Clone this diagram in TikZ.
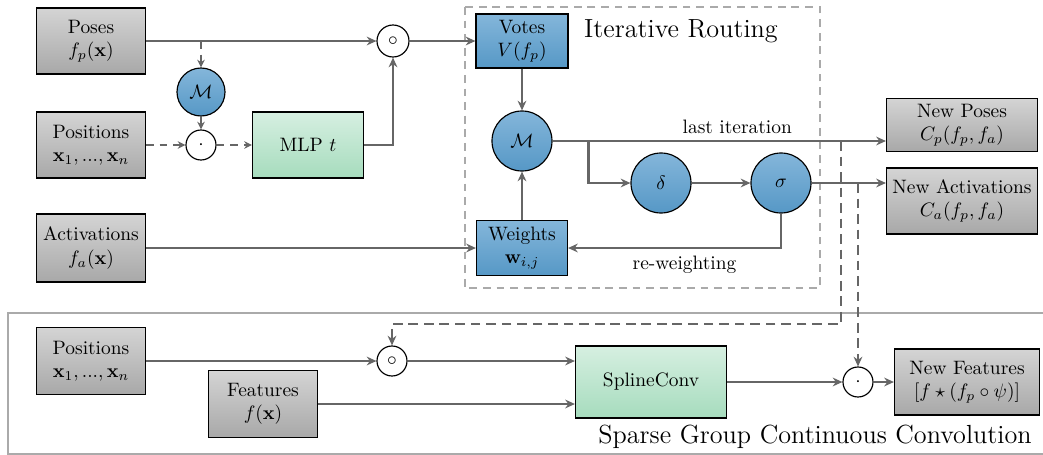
\documentclass[tikz,border=0pt]{standalone}
\usetikzlibrary{arrows.meta,calc,positioning}
\definecolor{gtop}{RGB}{212,212,212}
\definecolor{gbot}{RGB}{168,168,168}
\definecolor{btop}{RGB}{132,182,218}
\definecolor{bbot}{RGB}{86,152,198}
\definecolor{ntop}{RGB}{214,239,225}
\definecolor{nbot}{RGB}{166,220,189}
\definecolor{lc}{RGB}{102,102,102}
\definecolor{bc}{RGB}{170,170,170}
\def\u{0.515pt}
\tikzset{
  base/.style={draw=black, line width=0.6pt, align=center, inner sep=1pt},
  graybox/.style={base, rectangle, top color=gtop, bottom color=gbot},
  bluebox/.style={base, rectangle, top color=btop, bottom color=bbot},
  greenbox/.style={base, rectangle, top color=ntop, bottom color=nbot},
  bluecirc/.style={base, circle, top color=btop, bottom color=bbot},
  opcirc/.style={draw=black, line width=0.6pt, circle, fill=white, inner sep=0pt, minimum size=30*\u},
  conn/.style={draw=lc, line width=1.2pt, -{Stealth[length=5pt,width=4.5pt]}},
  thindash/.style={draw=lc, line width=0.7pt, dash pattern=on 4pt off 3pt, -{Stealth[length=4pt,width=4pt]}},
  thickdash/.style={draw=lc, line width=1.4pt, dash pattern=on 5pt off 3pt, -{Stealth[length=5pt,width=4.5pt]}},
  title/.style={font=\fontsize{13.5}{16}\selectfont},
}
\begin{document}
\begin{tikzpicture}[x=\u, y=-\u]
\useasboundingbox (0,0) rectangle (1043,455);
% frames
\draw[bc, line width=0.8pt, dash pattern=on 4pt off 3pt] (465,7) rectangle (820,288);
\node[title] (itr) at (681,31) {Iterative Routing};
\draw[bc, line width=1pt] (1045,313) -- (8,313) -- (8,454) -- (1045,454);
\node[title] (sgcc) at (815,437) {Sparse Group Continuous Convolution};
% top nodes
\node[graybox, minimum width=109*\u, minimum height=66*\u] (poses) at (91,41) {Poses\\$f_p(\mathbf{x})$};
\node[graybox, minimum width=109*\u, minimum height=66*\u] (pos) at (91,145) {Positions\\$\mathbf{x}_1, ..., \mathbf{x}_n$};
\node[graybox, minimum width=109*\u, minimum height=68*\u] (act) at (91,248) {Activations\\$f_a(\mathbf{x})$};
\node[bluecirc, minimum size=48*\u] (ms) at (201,92) {$\mathcal{M}$};
\node[opcirc] (dot1) at (201,145) {$\cdot$};
\node[greenbox, minimum width=111*\u, minimum height=66*\u] (mlp) at (308,145) {MLP $t$};
\node[opcirc, minimum size=32*\u] (circ1) at (393,41) {$\circ$};
\node[bluebox, minimum width=92*\u, minimum height=54*\u] (votes) at (522,41) {Votes\\$V(f_p)$};
\node[bluecirc, minimum size=60*\u] (mm) at (522,141) {$\mathcal{M}$};
\node[bluecirc, minimum size=60*\u] (delta) at (661,183) {$\delta$};
\node[bluecirc, minimum size=60*\u] (sigma) at (781,183) {$\sigma$};
\node[bluebox, minimum width=91*\u, minimum height=55*\u] (w) at (522,248) {Weights\\$\mathbf{w}_{i,j}$};
\node[graybox, minimum width=151*\u, minimum height=53*\u] (np) at (962,125) {New Poses\\$C_p(f_p,f_a)$};
\node[graybox, minimum width=151*\u, minimum height=66*\u] (na) at (962,201) {New Activations\\$C_a(f_p,f_a)$};
% bottom nodes
\node[graybox, minimum width=109*\u, minimum height=67*\u] (posb) at (91,361) {Positions\\$\mathbf{x}_1, ..., \mathbf{x}_n$};
\node[opcirc] (circ2) at (392,361) {$\circ$};
\node[graybox, minimum width=109*\u, minimum height=67*\u] (feat) at (263,404) {Features\\$f(\mathbf{x})$};
\node[greenbox, minimum width=151*\u, minimum height=72*\u] (spline) at (651,382) {SplineConv};
\node[opcirc] (dot2) at (858,382) {$\cdot$};
\node[graybox, minimum width=145*\u, minimum height=66*\u] (nf) at (967,382) {New Features\\$[f\star(f_p\circ\psi)]$};
% top connectors
\draw[conn] (poses.east) -- (circ1.west);
\draw[conn] (circ1.east) -- (votes.west);
\draw[thindash] (ms |- poses.east) -- (ms.north);
\draw[draw=lc, line width=0.7pt, -{Stealth[length=4pt,width=4pt]}] (ms.south) -- (dot1.north);
\draw[thindash] (pos.east) -- (dot1.west);
\draw[thindash] (dot1.east) -- (mlp.west);
\draw[conn] (mlp.east) -| (circ1.south);
\draw[conn] (votes.south) -- (mm.north);
\draw[conn] (mm.east) -- node[pos=0.5, above, xshift=18*\u] {last iteration} (mm.east -| np.west);
\coordinate (br) at ($(mm.east)+(36,0)$);
\draw[conn] (br) |- (delta.west);
\draw[conn] (delta.east) -- (sigma.west);
\draw[conn] (sigma.east) -- (sigma.east -| na.west);
\draw[conn] (sigma.south) |- node[pos=0.75, below, xshift=10*\u] {re-weighting} (w.east);
\draw[conn] (w.north) -- (mm.south);
\draw[conn] (act.east) -- (w.west);
% bottom connectors
\coordinate (d1) at ($(mm.east -| np.west)+(-45,0)$);
\coordinate (dy) at (0,324);
\draw[thickdash] (d1) -- (d1 |- dy) -| (circ2.north);
\draw[thickdash] (sigma.east -| dot2) -- (dot2.north);
\draw[conn] (posb.east) -- (circ2.west);
\draw[conn] (circ2.east) -- (circ2.east -| spline.west);
\draw[conn] (feat.east) -- (feat.east -| spline.west);
\draw[conn] (spline.east) -- (dot2.west);
\draw[conn] (dot2.east) -- (nf.west);
\end{tikzpicture}
\end{document}
